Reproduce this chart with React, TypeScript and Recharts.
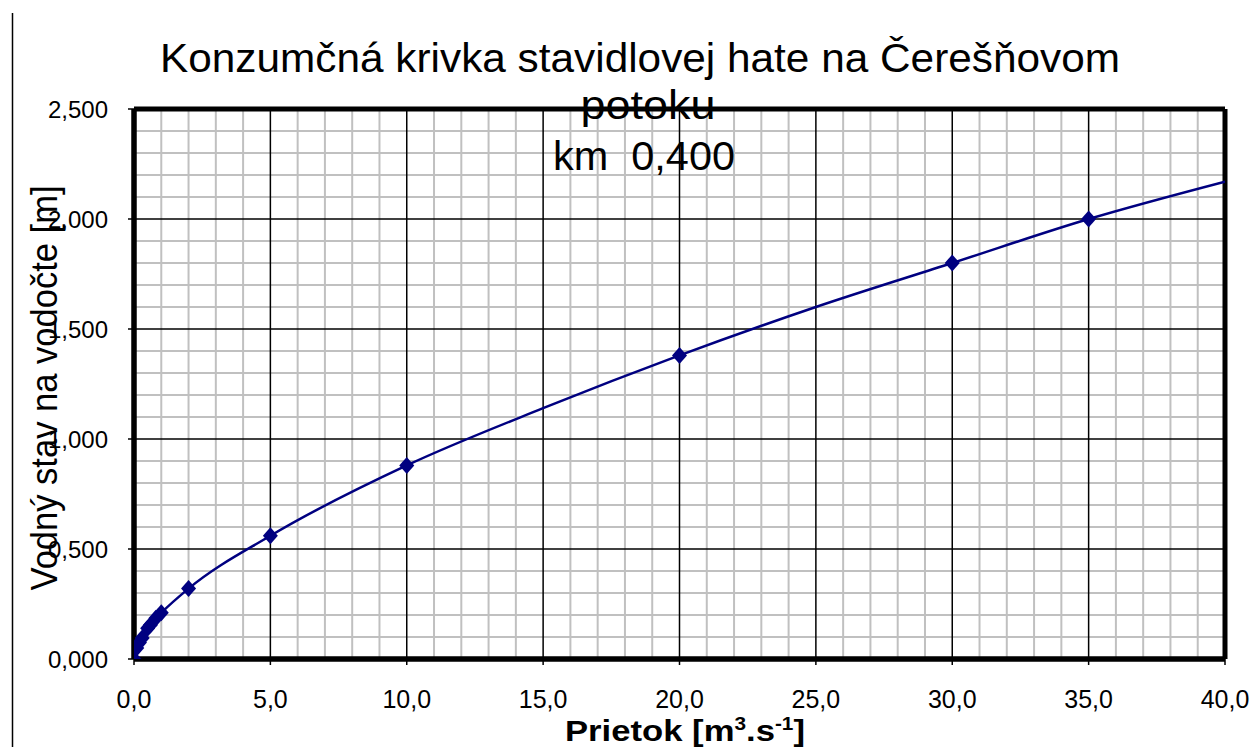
import React from "react";
import { ComposedChart, Line, Scatter, XAxis, YAxis, ReferenceLine } from "recharts";

// Measured points: discharge Q [m3/s] vs. gauge height H [m]
const measuredQ = [0, 0.1, 0.2, 0.3, 0.5, 0.6, 0.8, 1.0, 2.0, 5.0, 10.0, 20.0, 30.0, 35.0];
const measuredH = [0, 0.05, 0.075, 0.095, 0.14, 0.155, 0.185, 0.21, 0.32, 0.56, 0.88, 1.38, 1.8, 2.0];

// Trend curve
const trendQ = [0, 0.1, 0.2, 0.3, 0.5, 0.6, 0.8, 1.0, 2.0, 5.0, 10.0, 15.0, 20.0, 25.0, 30.0, 35.0, 40.0];
const trendH = [0, 0.05, 0.075, 0.095, 0.14, 0.155, 0.185, 0.21, 0.32, 0.56, 0.88, 1.14, 1.38, 1.6, 1.8, 2.0, 2.17];

const xTicks = [0, 5, 10, 15, 20, 25, 30, 35, 40];
const yTicks = [0, 0.5, 1.0, 1.5, 2.0, 2.5];
const xMinor = [1, 2, 3, 4, 6, 7, 8, 9, 11, 12, 13, 14, 16, 17, 18, 19, 21, 22, 23, 24, 26, 27, 28, 29, 31, 32, 33, 34, 36, 37, 38, 39];
const yMinor = [0.1, 0.2, 0.3, 0.4, 0.6, 0.7, 0.8, 0.9, 1.1, 1.2, 1.3, 1.4, 1.6, 1.7, 1.8, 1.9, 2.1, 2.2, 2.3, 2.4];
const xMajor = [5, 10, 15, 20, 25, 30, 35];
const yMajor = [0.5, 1.0, 1.5, 2.0];
const xFrame = [0, 40];
const yFrame = [0, 2.5];

const titleLine1 = "Konzumčná krivka stavidlovej hate na Čerešňovom";
const titleLine2 = "potoku";
const titleLine3 = "km  0,400";
const yLabel = "Vodný stav na vodočte [m]";

const measured = measuredQ.map((q, i) => ({ q, h: measuredH[i] }));
const trend = trendQ.map((q, i) => ({ q, h: trendH[i] }));

const NAVY = "#000080";
const FONT = "'Liberation Sans', Arial, sans-serif";

const Diamond = (props: any) => {
  const { cx, cy } = props;
  if (cx == null || cy == null) return null;
  return (
    <polygon
      points={`${cx},${cy - 8.5} ${cx + 7.5},${cy} ${cx},${cy + 8.5} ${cx - 7.5},${cy}`}
      fill={NAVY}
    />
  );
};

export default function App() {
  return (
    <div style={{ position: "absolute", left: 0, top: 0, width: 1253, height: 747, background: "#fff", fontFamily: FONT }}>
      <ComposedChart width={1253} height={747} margin={{ top: 109, right: 28, bottom: 0, left: 0 }}>
        {xMinor.map((v) => (
          <ReferenceLine key={"xm" + v} x={v} stroke="#c0c0c0" strokeWidth={2} />
        ))}
        {yMinor.map((v) => (
          <ReferenceLine key={"ym" + v} y={v} stroke="#c0c0c0" strokeWidth={2} />
        ))}
        {xMajor.map((v) => (
          <ReferenceLine key={"xM" + v} x={v} stroke="#000" strokeWidth={1.5} />
        ))}
        {yMajor.map((v) => (
          <ReferenceLine key={"yM" + v} y={v} stroke="#000" strokeWidth={1.5} />
        ))}
        {xFrame.map((v) => (
          <ReferenceLine key={"xF" + v} x={v} stroke="#000" strokeWidth={5} ifOverflow="visible" />
        ))}
        {yFrame.map((v) => (
          <ReferenceLine key={"yF" + v} y={v} stroke="#000" strokeWidth={5} ifOverflow="visible" />
        ))}
        <XAxis
          dataKey="q"
          type="number"
          domain={[0, 40]}
          ticks={xTicks}
          allowDataOverflow
          height={88}
          axisLine={{ stroke: "#000", strokeWidth: 5 }}
          tickLine={{ stroke: "#000", strokeWidth: 1.5 }}
          tickSize={6}
          tickMargin={25}
          tick={{ fill: "#000", fontSize: 25, fontFamily: FONT }}
          tickFormatter={(v: number) => v.toFixed(1).replace(".", ",")}
        />
        <YAxis
          dataKey="h"
          type="number"
          domain={[0, 2.5]}
          ticks={yTicks}
          allowDataOverflow
          width={134}
          axisLine={{ stroke: "#000", strokeWidth: 5 }}
          tickLine={{ stroke: "#000", strokeWidth: 1.5 }}
          tickSize={6}
          tickMargin={20}
          tick={{ fill: "#000", fontSize: 24, fontFamily: FONT }}
          tickFormatter={(v: number) => v.toFixed(3).replace(".", ",")}
        />
        <Line
          data={trend}
          dataKey="h"
          type="monotone"
          stroke={NAVY}
          strokeWidth={2.5}
          dot={false}
          activeDot={false}
          isAnimationActive={false}
        />
        <Scatter data={measured} dataKey="h" shape={Diamond} fill={NAVY} isAnimationActive={false} />
      </ComposedChart>
      <svg
        width={1253}
        height={747}
        style={{ position: "absolute", left: 0, top: 0, pointerEvents: "none" }}
      >
        <line x1={12.5} y1={13} x2={12.5} y2={747} stroke="#000" strokeWidth={1.5} />
        <text x={640} y={72} textAnchor="middle" fontSize={41} fontFamily={FONT} fill="#000" textLength={960} lengthAdjust="spacingAndGlyphs">
          {titleLine1}
        </text>
        <text x={648} y={119} textAnchor="middle" fontSize={40} fontFamily={FONT} fill="#000" textLength={135} lengthAdjust="spacingAndGlyphs">
          {titleLine2}
        </text>
        <text x={644} y={170} textAnchor="middle" fontSize={41} fontFamily={FONT} fill="#000" xmlSpace="preserve" style={{ whiteSpace: "pre" }} textLength={182} lengthAdjust="spacingAndGlyphs">
          {titleLine3}
        </text>
        <text
          transform="translate(57,388) rotate(-90)"
          textAnchor="middle"
          fontSize={36}
          fontFamily={FONT}
          fill="#000"
          textLength={405}
          lengthAdjust="spacingAndGlyphs"
        >
          {yLabel}
        </text>
        <text x={685} y={741} textAnchor="middle" fontSize={30} fontWeight="bold" fontFamily={FONT} fill="#000" textLength={240} lengthAdjust="spacingAndGlyphs">
          Prietok [m<tspan dy={-11} fontSize={18}>3</tspan><tspan dy={11}>.s</tspan><tspan dy={-11} fontSize={18}>-1</tspan><tspan dy={11}>]</tspan>
        </text>
      </svg>
    </div>
  );
}
